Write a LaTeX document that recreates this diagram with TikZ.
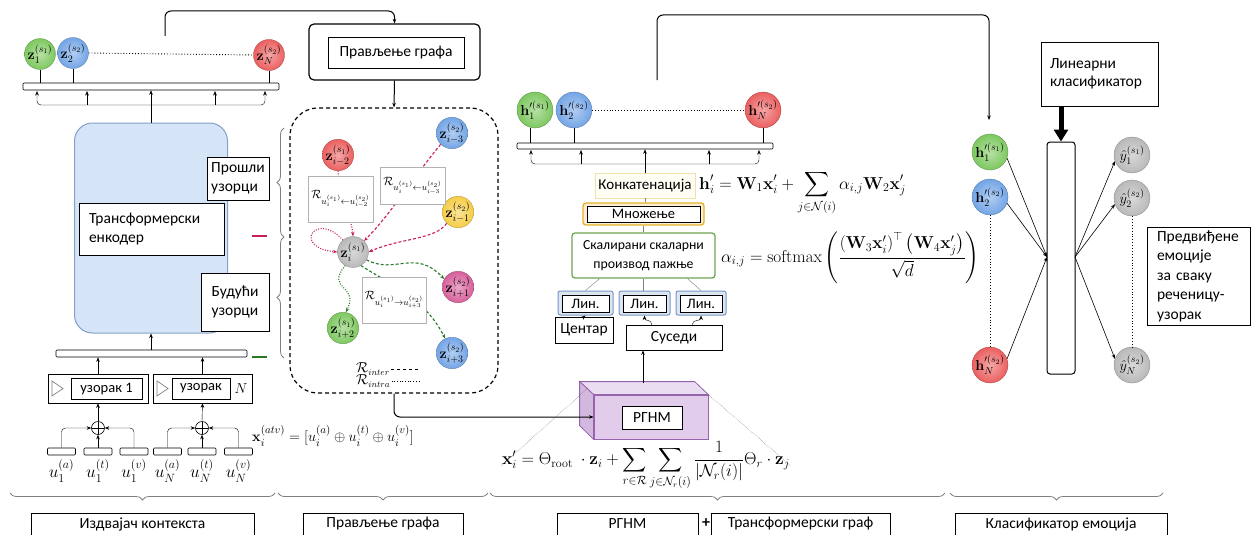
\documentclass[tikz,border=0pt]{standalone}
\usepackage{amsmath,amssymb}
\usepackage[no-math]{fontspec}
\setmainfont{Carlito}
\usetikzlibrary{arrows.meta,decorations.pathreplacing,calc,shapes.geometric}
\pgfdeclarelayer{bg}
\pgfsetlayers{bg,main}
\definecolor{encF}{RGB}{214,228,247}
\definecolor{encD}{RGB}{130,160,200}
\definecolor{crim}{RGB}{200,30,90}
\definecolor{dgreen}{RGB}{40,120,40}
\definecolor{gball}{RGB}{125,200,95}
\definecolor{bball}{RGB}{115,165,230}
\definecolor{rball}{RGB}{235,95,95}
\definecolor{yball}{RGB}{245,205,70}
\definecolor{pball}{RGB}{215,95,155}
\definecolor{kball}{RGB}{185,185,185}
\definecolor{rgF}{RGB}{225,205,235}
\definecolor{rgD}{RGB}{150,100,170}
\definecolor{multD}{RGB}{230,175,40}
\definecolor{scD}{RGB}{110,165,80}
\definecolor{linD}{RGB}{120,150,200}
\definecolor{concD}{RGB}{240,225,170}
\tikzset{
 ar/.style={-{Stealth[length=4.5pt,width=3.5pt]}},
 thinbox/.style={draw, fill=white, inner sep=0pt, line width=0.5pt},
 barbox/.style={draw, fill=white, inner sep=0pt, rounded corners=1pt, line width=0.6pt},
 lbl/.style={font=\fontsize{15.5}{19}\selectfont},
 sml/.style={font=\fontsize{14.5}{16}\selectfont},
 zball/.style={circle, minimum size=30pt, inner sep=0pt, draw=#1!70!black, line width=0.3pt,
   inner color=white!45!#1, outer color=#1, font=\fontsize{14}{14}\selectfont},
 hball/.style={zball=#1, minimum size=36pt},
 inter/.style={dash pattern=on 3pt off 2pt, line width=1.1pt},
 intra/.style={dash pattern=on 1pt off 1.5pt, line width=1.1pt},
 brc/.style={draw=gray, decorate, decoration={brace, amplitude=7pt}, line width=0.8pt},
 rlab/.style={thinbox, draw=gray!60, font=\fontsize{13}{14}\selectfont},
 plusc/.style={circle, draw, minimum size=13pt, inner sep=0pt, line width=0.6pt,
   path picture={\draw (path picture bounding box.north) -- (path picture bounding box.south)
   (path picture bounding box.west) -- (path picture bounding box.east);}},
}
\begin{document}
\begin{tikzpicture}[x=1pt,y=-1pt]
\useasboundingbox (0,0) rectangle (1252,535);

% ---------------- left: context extractor ----------------
\node[barbox, minimum width=256pt, minimum height=7pt] (bar1) at (151,86.5) {};
\node[zball=gball] (z1) at (40,54) {$\mathbf{z}_1^{(s_1)}$};
\node[zball=bball] (z2) at (73,53) {$\mathbf{z}_2^{(s_2)}$};
\node[zball=rball] (zN) at (269,55) {$\mathbf{z}_N^{(s_2)}$};
\draw[dotted, line width=0.9pt] (z2.east) -- (zN.west);
\foreach \n in {z1,z2,zN} \draw[line width=0.8pt] (\n.south) -- (\n.south |- bar1.north);
\draw[ar, rounded corners=4pt] (151,105) -- (37,105) -- (37,91);
\draw[ar, rounded corners=4pt] (151,105) -- (265,105) -- (265,91);
\draw[ar] (87,105) -- (87,91);
\draw[ar] (215,105) -- (215,91);

\node[draw=encD, fill=encF, rounded corners=18pt, minimum width=153pt, minimum height=210pt, line width=1pt] (enc) at (151,228) {};
\draw[ar] (enc.north) -- (enc.north |- bar1.south);
\node[thinbox, minimum width=145pt, minimum height=52pt, lbl, align=left, text width=125pt] (enct) at (151.5,229) {Трансформерски\\енкодер};
\node[thinbox, minimum width=62pt, minimum height=43pt, lbl, align=left] (past) at (238,178.5) {Прошли\\узорци};
\node[thinbox, minimum width=68pt, minimum height=58pt, lbl, align=left] (fut) at (235,302) {Будући\\узорци};
\draw[crim, line width=1.2pt] (252,236) -- (267,236);
\draw[dgreen, line width=1.2pt] (252,357) -- (267,357);

\node[barbox, minimum width=191pt, minimum height=7pt] (bar2) at (151.5,353.5) {};
\draw[ar] (bar2.north -| enc.south) -- (enc.south);

\node[thinbox, minimum width=100pt, minimum height=29pt] (s1o) at (98,388.5) {};
\node[thinbox, minimum width=71pt, minimum height=21pt, sml] (s1i) at (106.5,388.5) {узорак 1};
\draw[gray, line width=0.7pt] (52,381) -- (63,388.5) -- (52,396) -- cycle;
\node[thinbox, minimum width=99pt, minimum height=29pt] (sNo) at (202.5,388.5) {};
\node[thinbox, minimum width=58pt, minimum height=21pt, sml] (sNi) at (201,388.5) {узорак};
\draw[gray, line width=0.7pt] (157,381) -- (168,388.5) -- (157,396) -- cycle;
\node[font=\fontsize{15}{15}\selectfont] (nN) at (241,388.5) {$N$};
\draw[ar] (s1o.north) -- (s1o.north |- bar2.south);
\draw[ar] (sNo.north) -- (sNo.north |- bar2.south);

\node[plusc] (p1) at (98,428) {};
\node[plusc] (p2) at (202,428) {};
\draw[ar] (p1.north) -- (s1o.south);
\draw[ar] (p2.north) -- (sNo.south);
\node[barbox, minimum width=28pt, minimum height=7pt] (u1a) at (61.5,451.5) {};
\node[barbox, minimum width=28pt, minimum height=7pt] (u1t) at (98,451.5) {};
\node[barbox, minimum width=28pt, minimum height=7pt] (u1v) at (134,451.5) {};
\node[barbox, minimum width=28pt, minimum height=7pt] (uNa) at (167.5,451.5) {};
\node[barbox, minimum width=28pt, minimum height=7pt] (uNt) at (202,451.5) {};
\node[barbox, minimum width=28pt, minimum height=7pt] (uNv) at (238.5,451.5) {};
\draw[ar, rounded corners=4pt] (u1a.north) |- (p1.west);
\draw[ar] (u1t.north) -- (p1.south);
\draw[ar, rounded corners=4pt] (u1v.north) |- (p1.east);
\draw[ar, rounded corners=4pt] (uNa.north) |- (p2.west);
\draw[ar] (uNt.north) -- (p2.south);
\draw[ar, rounded corners=4pt] (uNv.north) |- (p2.east);
\begin{scope}[font=\fontsize{16.5}{17}\selectfont]
\node (l1a) at (61.5,471) {$u_1^{(a)}$};
\node (l1t) at (98,471) {$u_1^{(t)}$};
\node (l1v) at (134,471) {$u_1^{(v)}$};
\node (lNa) at (167.5,471) {$u_N^{(a)}$};
\node (lNt) at (202,471) {$u_N^{(t)}$};
\node (lNv) at (238.5,471) {$u_N^{(v)}$};
\end{scope}
\node[anchor=west, font=\fontsize{15.5}{17}\selectfont, inner sep=1pt] (fatv) at (251,436) {$\mathbf{x}_i^{(atv)} = [u_i^{(a)} \oplus u_i^{(t)} \oplus u_i^{(v)}]$};

\draw[brc] (284,237) -- (284,128);
\draw[brc] (284,358) -- (284,237);

% ---------------- graph construction ----------------
\node[draw, line width=1.2pt, rounded corners=5pt, minimum width=171pt, minimum height=56pt] (gbox) at (394.5,52) {};
\node[thinbox, minimum width=136pt, minimum height=31pt, lbl] (gboxin) at (396,52.5) {Прављење графа};
\coordinate (tlA) at (165,36);
\draw[ar, line width=1pt, rounded corners=6pt] (tlA) -- (165,11) -- (394.5,11) -- (gbox.north);
\node[draw, dash pattern=on 4pt off 3pt, line width=1.2pt, rounded corners=28pt, minimum width=208pt, minimum height=285pt] (greg) at (394,250.5) {};
\draw[ar, line width=1pt] (gbox.south) -- (greg.north);

\node[zball=rball] (zim2) at (338,155) {$\mathbf{z}_{i-2}^{(s_1)}$};
\node[zball=bball] (zim3) at (452,133) {$\mathbf{z}_{i-3}^{(s_2)}$};
\node[zball=yball] (zim1) at (458,212) {$\mathbf{z}_{i-1}^{(s_2)}$};
\node[zball=kball] (zi) at (353,252) {$\mathbf{z}_{i}^{(s_1)}$};
\node[zball=pball] (zip1) at (458,287) {$\mathbf{z}_{i+1}^{(s_2)}$};
\node[zball=gball] (zip2) at (343,328) {$\mathbf{z}_{i+2}^{(s_1)}$};
\node[zball=bball] (zip3) at (452,353) {$\mathbf{z}_{i+3}^{(s_2)}$};

\begin{pgfonlayer}{bg}
\draw[crim, intra, ar] (zim2.south) .. controls (340,200) and (352,220) .. (zi.north);
\draw[crim, inter, ar] (zim3.south west) .. controls (415,175) and (390,215) .. (zi.north east);
\draw[crim, inter, ar] (zim1.south west) .. controls (435,240) and (400,238) .. (zi.east);
\draw[crim, intra, ar] (zi.130) .. controls (315,210) and (292,248) .. (zi.west);
\draw[dgreen, inter, ar] (zi.-30) .. controls (395,275) and (415,248) .. (zip1.150);
\draw[dgreen, intra, ar] (zi.240) .. controls (325,290) and (360,285) .. (zip2.80);
\draw[dgreen, inter, ar] (zi.-60) .. controls (400,290) and (425,300) .. (zip3.115);
\end{pgfonlayer}

\node[rlab, minimum width=65pt, minimum height=46pt] (rb1) at (340.5,199) {$\mathcal{R}_{u_i^{(s_1)}\leftarrow u_{i-2}^{(s_2)}}$};
\node[rlab, minimum width=65pt, minimum height=37pt] (rb2) at (412.5,185.5) {$\mathcal{R}_{u_i^{(s_1)}\leftarrow u_{i-3}^{(s_2)}}$};
\node[rlab, minimum width=64pt, minimum height=46pt] (rb3) at (394,300) {$\mathcal{R}_{u_i^{(s_1)}\rightarrow u_{i+3}^{(s_2)}}$};

\node[anchor=west, font=\fontsize{13.5}{13.5}\selectfont, inner sep=1pt] (lg1) at (355,369) {$\mathcal{R}_{inter}$};
\node[anchor=west, font=\fontsize{13.5}{13.5}\selectfont, inner sep=1pt] (lg2) at (355,381) {$\mathcal{R}_{intra}$};
\draw[dashed, line width=0.7pt] (lg1.east) -- ++(28,0);
\draw[dotted, line width=0.7pt] (lg2.east) -- ++(28,0);

% ---------------- RGNM + graph transformer ----------------
\node[draw=rgD, fill=rgF, minimum width=114pt, minimum height=44pt, line width=0.8pt] (rgnm) at (651,417) {};
\draw[draw=rgD, fill=rgF!70!white, line width=0.8pt] (rgnm.north west) -- ++(-14,-13) -- ++(115,0) -- (rgnm.north east) -- cycle;
\draw[draw=rgD, fill=rgF!80!rgD, line width=0.8pt] (rgnm.north west) -- ++(-14,-13) -- ++(0,44) -- (rgnm.south west) -- cycle;
\node[thinbox, minimum width=60pt, minimum height=23pt, lbl] (rgnmt) at (652,417.5) {РГНМ};
\draw[ar, line width=1pt, rounded corners=6pt] (greg.south) |- (rgnm.west);
\node[font=\fontsize{16.8}{18}\selectfont, inner sep=1pt] (fx) at (646,466) {$\displaystyle \mathbf{x}'_i = \Theta_{\mathrm{root}}\ \cdot \mathbf{z}_i + \sum_{r\in\mathcal{R}} \sum_{j\in\mathcal{N}_r(i)} \frac{1}{|\mathcal{N}_r(i)|}\Theta_r \cdot \mathbf{z}_j$};
\coordinate (rtl) at (588,388);
\draw[densely dotted, gray!70!black] (rtl) -- (fx.west);
\draw[densely dotted, gray!70!black] (rgnm.north east) -- (fx.east);

\node[thinbox, minimum width=58pt, minimum height=26pt, lbl] (cent) at (584,330) {Центар};
\node[thinbox, minimum width=96pt, minimum height=25pt, lbl] (sus) at (674,337.5) {Суседи};
\coordinate (rtop) at (643,383);
\draw[ar, line width=1pt] (rtop) -- (rtop |- sus.south);

\node[draw=linD, fill=linD!25, rounded corners=2pt, line width=1pt, minimum width=55pt, minimum height=24pt] (lin1) at (585.5,303) {};
\node[draw=linD, fill=linD!25, rounded corners=2pt, line width=1pt, minimum width=51pt, minimum height=24pt] (lin2) at (644.5,303) {};
\node[draw=linD, fill=linD!25, rounded corners=2pt, line width=1pt, minimum width=50pt, minimum height=24pt] (lin3) at (701,303) {};
\node[thinbox, minimum width=47pt, minimum height=17pt, sml] (lin1t) at (585.5,304) {Лин.};
\node[thinbox, minimum width=43pt, minimum height=17pt, sml] (lin2t) at (644.5,304) {Лин.};
\node[thinbox, minimum width=42pt, minimum height=17pt, sml] (lin3t) at (701,304) {Лин.};
\draw[ar] (cent.north) -- (lin1.south);
\draw[ar] (sus.north west) ++(26,0) .. controls +(0,-6) and +(0,6) .. (lin2.south);
\draw[ar] (sus.north east) ++(-30,0) .. controls +(0,-6) and +(0,6) .. (lin3.south);

\node[draw=scD, fill=white, rounded corners=3pt, line width=1.3pt, minimum width=143pt, minimum height=45pt, font=\fontsize{13.8}{19}\selectfont, align=center] (scd) at (643.5,255.5) {Скалирани скаларни\\производ пажње};
\draw[gray] (scd.south) ++(-44,0) -- (lin1.north);
\draw[gray] (scd.south) -- (scd.south |- lin2.north);
\draw[gray] (scd.south) ++(44,0) -- (lin3.north);

\node[draw=multD, fill=multD!20, rounded corners=3pt, line width=1.3pt, minimum width=121pt, minimum height=22pt] (mul) at (643.5,214) {};
\node[thinbox, minimum width=113pt, minimum height=16pt, sml] (mult) at (643.5,214) {Множење};
\draw[gray] (mul.south) -- (scd.north);

\node[draw=concD, fill=yellow!4, line width=0.8pt, minimum width=100pt, minimum height=25pt, inner sep=0pt, font=\fontsize{15}{16}\selectfont] (conc) at (645,185.5) {Конкатенација};
\draw[gray] (conc.south) -- (conc.south |- mul.north);

\node[anchor=west, font=\fontsize{17.3}{19}\selectfont, inner sep=1pt] (fh) at (698,193) {$\displaystyle \mathbf{h}'_i = \mathbf{W}_1\mathbf{x}'_i + \sum_{j\in\mathcal{N}(i)} \alpha_{i,j}\mathbf{W}_2\mathbf{x}'_j$};
\node[anchor=west, font=\fontsize{17.3}{19}\selectfont, inner sep=1pt] (fa) at (720,258) {$\displaystyle \alpha_{i,j} = \mathrm{softmax}\left(\frac{\left(\mathbf{W}_3\mathbf{x}'_i\right)^{\top}\left(\mathbf{W}_4\mathbf{x}'_j\right)}{\sqrt{d}}\right)$};

\node[barbox, minimum width=256pt, minimum height=6pt] (bar3) at (645,146) {};
\node[hball=gball] (h1) at (535,110) {$\mathbf{h}'^{(s_1)}_1$};
\node[hball=bball] (h2) at (574,110) {$\mathbf{h}'^{(s_2)}_2$};
\node[hball=rball] (hN) at (763,110) {$\mathbf{h}'^{(s_2)}_N$};
\draw[dotted, line width=0.9pt] (h2.east) -- (hN.west);
\draw[line width=0.8pt] (h1.south) ++(-5,0) coordinate (h1s) -- (h1s |- bar3.north);
\draw[line width=0.8pt] (h2.south) -- (h2.south |- bar3.north);
\draw[line width=0.8pt] (hN.south) -- (hN.south |- bar3.north);
\draw[ar, rounded corners=4pt] (645,164) -- (531,164) -- (531,150);
\draw[ar, rounded corners=4pt] (645,164) -- (759,164) -- (759,150);
\draw[ar] (581,164) -- (581,150);
\draw[ar] (709,164) -- (709,150);
\draw[ar] (conc.north) -- (conc.north |- bar3.south);

\coordinate (trA) at (657,80);
\coordinate (trB) at (989,120);
\draw[ar, line width=1pt, rounded corners=6pt] (trA) -- (657,15) -- (989,15) -- (trB);

% ---------------- classifier ----------------
\node[hball=gball] (hr1) at (990,152) {$\mathbf{h}'^{(s_1)}_1$};
\node[hball=bball] (hr2) at (990,197) {$\mathbf{h}'^{(s_2)}_2$};
\node[hball=rball] (hrN) at (990,365) {$\mathbf{h}'^{(s_2)}_N$};
\draw[dotted, line width=0.9pt] (hr2.south) -- (hrN.north);
\node[draw, fill=white, rounded corners=3pt, line width=1pt, minimum width=28pt, minimum height=232pt] (tall) at (1061,258) {};
\node[thinbox, minimum width=117pt, minimum height=64pt, align=left, text width=99pt, font=\fontsize{15.5}{18}\selectfont] (lincl) at (1099.5,74) {Линеарни\\класификатор};
\draw[line width=5pt, -{Triangle[length=12pt,width=14pt]}] (lincl.south -| tall.north) -- (tall.north);
\coordinate (cin) at (1047,257);
\coordinate (cout) at (1075,257);
\draw[ar, line width=0.6pt] (hr1.-20) -- (cin);
\draw[ar, line width=0.6pt] (hr2.-20) -- (cin);
\draw[ar, line width=0.6pt] (hrN.20) -- (cin);
\node[hball=kball] (y1) at (1132,155) {$\hat{y}_1^{(s_1)}$};
\node[hball=kball] (y2) at (1132,198) {$\hat{y}_2^{(s_2)}$};
\node[hball=kball] (yN) at (1132,365) {$\hat{y}_N^{(s_2)}$};
\draw[dotted, line width=0.9pt] (y2.south) -- (yN.north);
\draw[ar, line width=0.6pt] (cout) -- (y1.200);
\draw[ar, line width=0.6pt] (cout) -- (y2.200);
\draw[ar, line width=0.6pt] (cout) -- (yN.160);
\node[thinbox, minimum width=103pt, minimum height=98pt, align=left, text width=84pt, font=\fontsize{15.5}{19.5}\selectfont] (pred) at (1199,276) {Предвиђене\\емоције\\за сваку\\реченицу-\\узорак};

% ---------------- bottom braces and labels ----------------
\draw[brc] (275,493) -- (10,493);
\draw[brc] (488,493) -- (278,493);
\draw[brc] (945,493) -- (490,493);
\draw[brc] (1163,493) -- (950,493);
\node[thinbox, minimum width=223pt, minimum height=22pt, lbl] (b1) at (142.5,524) {Издвајач контекста};
\node[thinbox, minimum width=160pt, minimum height=22pt, lbl] (b2) at (383,524) {Прављење графа};
\node[thinbox, minimum width=141pt, minimum height=22pt, lbl] (b3) at (627.5,524) {РГНМ};
\node[font=\bfseries\fontsize{16}{16}\selectfont] (bplus) at (706,523) {+};
\node[thinbox, minimum width=179pt, minimum height=22pt, lbl] (b4) at (800.5,524) {Трансформерски граф};
\node[thinbox, minimum width=212pt, minimum height=22pt, lbl] (b5) at (1061,524) {Класификатор емоција};
\end{tikzpicture}
\end{document}
